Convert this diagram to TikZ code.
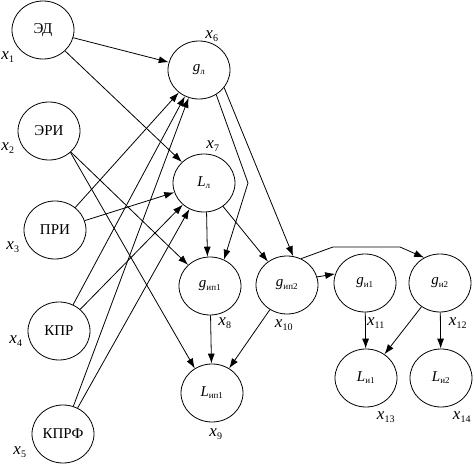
\documentclass[tikz,border=0pt]{standalone}
\usepackage{fontspec}
\setmainfont{Liberation Serif}
\usetikzlibrary{shapes.geometric,arrows.meta}
\newcommand{\xsub}[1]{\textit{x}\textsubscript{\fontsize{10}{10}\selectfont #1}}
\newcommand{\vsub}[2]{\textit{#1}\textsubscript{\fontsize{9}{9}\selectfont #2}}
\begin{document}
\begin{tikzpicture}[x=1pt,y=1pt]
\tikzstyle{every node}+=[inner sep=0pt]
\tikzstyle{vertex}=[draw=black, line width=0.8pt, ellipse, minimum width=62pt, minimum height=58pt, font=\fontsize{15}{17}\selectfont]
\tikzstyle{arr}=[draw=black, line width=0.8pt, -{Latex[length=10pt,width=7pt]}]
\tikzstyle{xlab}=[font=\fontsize{17}{19}\selectfont]
\useasboundingbox (0,0) rectangle (474,-465);
% input factors
\node [vertex] (ed) at (43,-30) {ЭД};
\node [vertex] (eri) at (49,-131) {ЭРИ};
\node [vertex] (pri) at (55,-230) {ПРИ};
\node [vertex] (kpr) at (59,-331) {КПР};
\node [vertex] (kprf) at (63,-434) {КПРФ};
% intermediate nodes
\node [vertex] (gl) at (199,-70) {\vsub{g}{л}};
\node [vertex] (Ll) at (204,-183) {\vsub{L}{л}};
\node [vertex] (gip1) at (210,-286) {\vsub{g}{ип1}};
\node [vertex] (Lip1) at (212,-393) {\vsub{L}{ип1}};
\node [vertex] (gip2) at (287,-285) {\vsub{g}{ип2}};
\node [vertex] (gi1) at (365,-283) {\vsub{g}{и1}};
\node [vertex] (gi2) at (440,-283) {\vsub{g}{и2}};
\node [vertex] (Li1) at (366,-378) {\vsub{L}{и1}};
\node [vertex] (Li2) at (441,-378) {\vsub{L}{и2}};
% variable labels
\draw (8,-57) node [xlab] {\xsub{1}};
\draw (8,-148) node [xlab] {\xsub{2}};
\draw (13,-247) node [xlab] {\xsub{3}};
\draw (16,-341) node [xlab] {\xsub{4}};
\draw (20,-452) node [xlab] {\xsub{5}};
\draw (212,-36) node [xlab] {\xsub{6}};
\draw (213,-146) node [xlab] {\xsub{7}};
\draw (225,-323) node [xlab] {\xsub{8}};
\draw (216,-434) node [xlab] {\xsub{9}};
\draw (284,-325) node [xlab] {\xsub{10}};
\draw (376,-323) node [xlab] {\xsub{11}};
\draw (458,-323) node [xlab] {\xsub{12}};
\draw (386,-417) node [xlab] {\xsub{13}};
\draw (462,-417) node [xlab] {\xsub{14}};
% bend points
\coordinate (b1) at (248,-183);
\coordinate (b2) at (333,-247);
\coordinate (b3) at (400,-247);
% connections
\draw [arr] (ed) -- (gl);
\draw [arr] (ed) -- (Ll);
\draw [arr] (eri) -- (gip1);
\draw [arr] (eri.-45) -- (Lip1.125);
\draw [arr] (pri) -- (gl);
\draw [arr] (pri) -- (Ll);
\draw [arr] (kpr) -- (gl);
\draw [arr] (kpr) -- (Ll);
\draw [arr] (kprf) -- (gl);
\draw [arr] (kprf) -- (Ll);
\draw [arr] (gl.-55) -- (b1) -- (gip1.62);
\draw [arr] (gl.-35) -- (gip2.78);
\draw [arr] (Ll.-85) -- (gip1.95);
\draw [arr] (Ll) -- (gip2);
\draw [arr] (gip1) -- (Lip1);
\draw [arr] (gip2) -- (Lip1);
\draw [arr] (gip2.15) -- (gi1.163);
\draw [arr] (gip2.62) -- (b2) -- (b3) -- (gi2.122);
\draw [arr] (gi1) -- (Li1);
\draw [arr] (gi2) -- (Li1);
\draw [arr] (gi2) -- (Li2);
\end{tikzpicture}
\end{document}
